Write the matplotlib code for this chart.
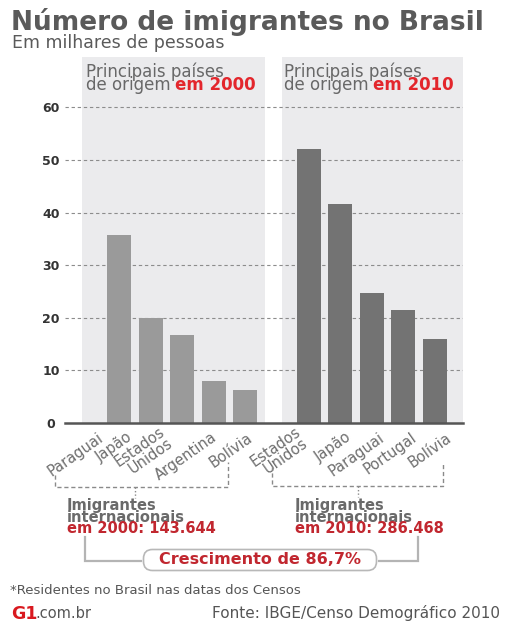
import matplotlib.pyplot as plt
from matplotlib.lines import Line2D
from matplotlib.patches import FancyBboxPatch
from matplotlib.transforms import IdentityTransform

# dados (milhares de pessoas)
paises_2000 = ["Paraguai", "Japão", "Estados\nUnidos", "Argentina", "Bolívia"]
valores_2000 = [35.8, 19.9, 16.8, 7.9, 6.2]
paises_2010 = ["Estados\nUnidos", "Japão", "Paraguai", "Portugal", "Bolívia"]
valores_2010 = [52.2, 41.7, 24.8, 21.5, 15.9]
yticks = [0, 10, 20, 30, 40, 50, 60]

total_2000 = "143.644"
total_2010 = "286.468"
crescimento = "86,7%"

W, H = 506, 622
CINZA = "#5a5a5a"
VERMELHO = "#e3262c"
VERMELHO_ESC = "#c1272f"

plt.rcParams['font.family'] = ['DejaVu Sans']


def fx(x):
    return x / W


def fy(y):
    return 1 - y / H


fig = plt.figure(figsize=(W / 100, H / 100), dpi=100)
ax = fig.add_axes([fx(65), fy(423), fx(398), 366 / H])

pos_2000 = list(range(len(valores_2000)))
pos_2010 = [p + len(valores_2000) + 1 for p in range(len(valores_2010))]

# paineis cinza
ax.axvspan(-1.17, 4.62, color="#ebebed", zorder=0.5, lw=0)
ax.axvspan(5.16, 10.9, color="#ebebed", zorder=0.5, lw=0)

for t in yticks[1:]:
    ax.axhline(t, color="#8c8c8c", lw=0.8, ls=(0, (3, 2.5)), zorder=1.5)
ax.axhline(0, color="#555555", lw=1.8, zorder=3, clip_on=False)

ax.bar(pos_2000, valores_2000, width=0.76, color="#9a9a9a", zorder=2)
ax.bar(pos_2010, valores_2010, width=0.76, color="#737373", zorder=2)

ax.set_xlim(-1.71, 10.89)
ax.set_ylim(0, 69.6)
for s in ax.spines.values():
    s.set_visible(False)

ax.set_yticks(yticks)
ax.set_yticklabels([str(v) for v in yticks])
ax.tick_params(axis='y', length=0, pad=10, labelsize=9, labelcolor="#333333")
for lb in ax.get_yticklabels():
    lb.set_horizontalalignment('center')
    lb.set_fontweight('bold')

# rotulos dos paises (deslocados como no original)
ax.set_xticks([])
desloc = [-17, -20, -15, 2, 6, -6, 9, 11, 12, 15]
for p, nome, dx in zip(pos_2000 + pos_2010, paises_2000 + paises_2010, desloc):
    ax.annotate(nome, xy=(p, 0), xycoords=('data', 'axes fraction'),
                xytext=(dx, -13), textcoords='offset pixels',
                rotation=35, ha='right', va='center', rotation_mode='anchor',
                fontsize=10.5, color="#6e6e6e", linespacing=0.85,
                annotation_clip=False)

# titulos
fig.text(fx(11), fy(30), "Número de imigrantes no Brasil", fontsize=19,
         fontweight='bold', color=CINZA, va='baseline')
fig.text(fx(12), fy(48), "Em milhares de pessoas", fontsize=12.5,
         color=CINZA, va='baseline')

cabecalhos = []
for x0, ano in [(86, "em 2000"), (284, "em 2010")]:
    fig.text(fx(x0), fy(77), "Principais países", fontsize=12,
             color="#686868", va='baseline')
    t = fig.text(fx(x0), fy(89.5), "de origem", fontsize=12,
                 color="#686868", va='baseline')
    cabecalhos.append((t, ano))

fig.canvas.draw()
for t, ano in cabecalhos:
    bb = t.get_window_extent()
    fig.text(bb.x1 / fig.bbox.width + fx(4), fy(89.5), ano, fontsize=12,
             fontweight='bold', color=VERMELHO, va='baseline')

# chaves tracejadas
tr = dict(color="#8a8a8a", lw=1, ls=(0, (3, 2)))


def linha(xs, ys, **kw):
    fig.add_artist(Line2D([fx(x) for x in xs], [fy(y) for y in ys], **kw))


linha([55, 55, 228, 228], [475, 487, 487, 462], **tr)
linha([135, 135], [487, 498], color="#8a8a8a", lw=1, ls=(0, (1, 1.5)))
linha([272, 272, 443, 443], [466, 486, 486, 462], **tr)
linha([358, 358], [486, 497], color="#8a8a8a", lw=1, ls=(0, (1, 1.5)))

for x0, ano, tot in [(67, "2000", total_2000), (295, "2010", total_2010)]:
    fig.text(fx(x0), fy(510), "Imigrantes", fontsize=10.5, fontweight='bold',
             color="#6a6a6a", va='baseline')
    fig.text(fx(x0), fy(521.5), "internacionais", fontsize=10.5,
             fontweight='bold', color="#6a6a6a", va='baseline')
    fig.text(fx(x0), fy(533), "em %s: %s" % (ano, tot), fontsize=10.5,
             fontweight='bold', color=VERMELHO_ESC, va='baseline')

cz = dict(color="#b4b4b4", lw=1.6, solid_joinstyle='miter')
linha([85, 85, 141], [537, 561, 561], **cz)
linha([379, 418, 418], [561, 561, 537], **cz)
fig.patches.append(FancyBboxPatch((148, H - 566), 224, 12,
                                  boxstyle="round,pad=4.5,rounding_size=9",
                                  fc="white", ec="#b8b8b8", lw=1.2,
                                  transform=IdentityTransform(), figure=fig))
fig.text(fx(260), fy(560), "Crescimento de " + crescimento, fontsize=11.5,
         fontweight='bold', color=VERMELHO_ESC, ha='center', va='center')

# rodape
fig.text(fx(10), fy(594), "*Residentes no Brasil nas datas dos Censos",
         fontsize=9.5, color="#555555", va='baseline')
fig.text(fx(11), fy(619), "G1", fontsize=12.5, fontweight='heavy',
         color="#d9191f", va='baseline')
fig.text(fx(35), fy(618), ".com.br", fontsize=10.5, color="#555555",
         va='baseline')
fig.text(fx(500), fy(618), "Fonte: IBGE/Censo Demográfico 2010",
         fontsize=11, color="#555555", va='baseline', ha='right')

fig.savefig("out.png", dpi=100)
